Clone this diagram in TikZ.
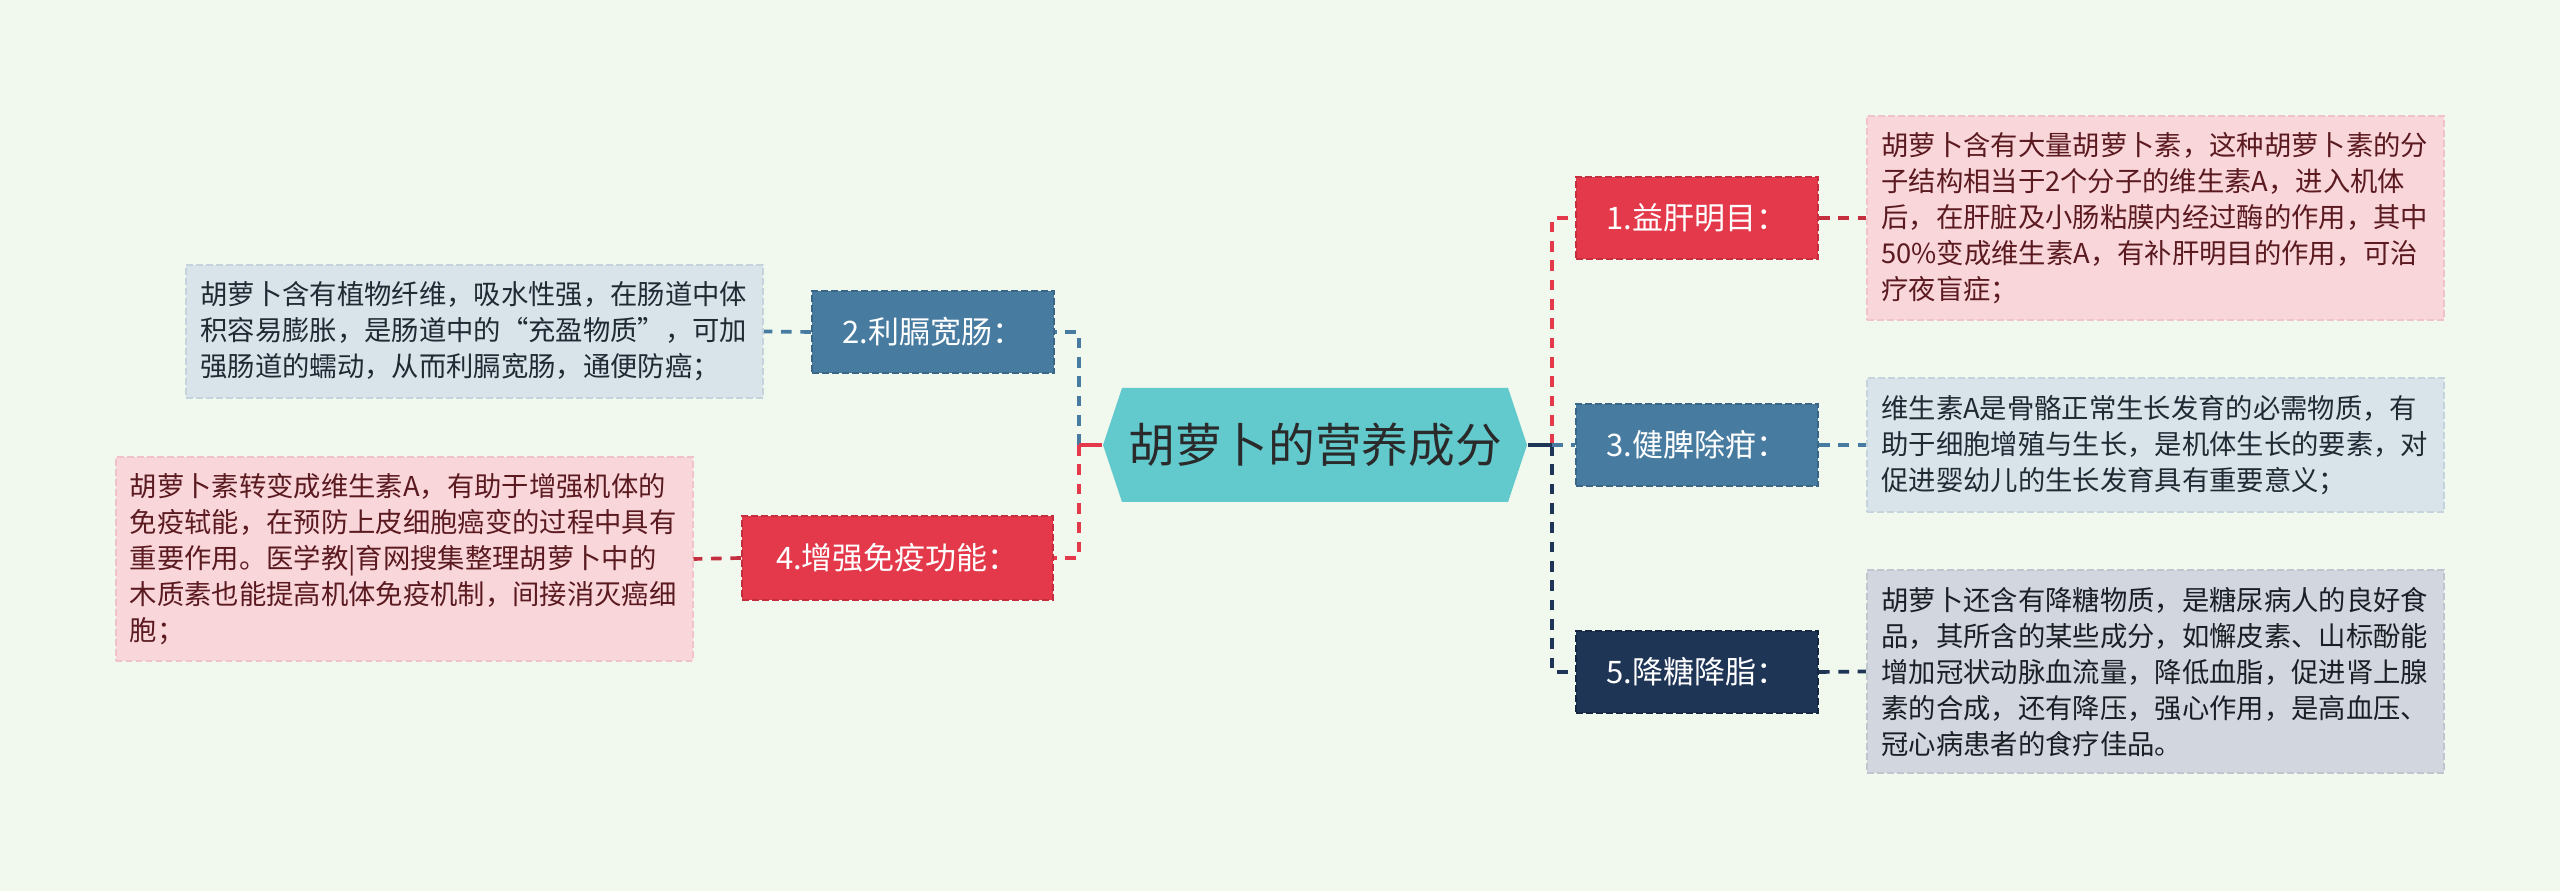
\documentclass[tikz,border=0pt]{standalone}
\usepackage{fontspec}
\setmainfont{Noto Sans CJK SC}
\usetikzlibrary{calc}
\definecolor{bg}{HTML}{F1F9EF}
\definecolor{hubfill}{HTML}{62C9CC}
\definecolor{hubtext}{HTML}{2A2A2A}
\definecolor{cred}{HTML}{E3394A}
\definecolor{credd}{HTML}{C42E3E}
\definecolor{cblue}{HTML}{477BA0}
\definecolor{cblued}{HTML}{3A6687}
\definecolor{cnavy}{HTML}{1E3556}
\definecolor{cnavyd}{HTML}{152741}
\definecolor{pinkfill}{HTML}{F9D6DA}
\definecolor{pinkline}{HTML}{EFC3C9}
\definecolor{pinktext}{HTML}{5A1A20}
\definecolor{bluefill}{HTML}{D8E3EA}
\definecolor{blueline}{HTML}{C5D3DD}
\definecolor{bluetext}{HTML}{1F2A33}
\definecolor{greyfill}{HTML}{D2D7DF}
\definecolor{greyline}{HTML}{C0C6D0}
\definecolor{greytext}{HTML}{1A1F26}
\begin{document}
\begin{tikzpicture}[x=0.3pt,y=-0.3pt,
  hub/.style={rectangle, minimum width=127.2pt, minimum height=34.2pt, inner sep=0pt,
    text=hubtext, font=\fontsize{14pt}{16pt}\selectfont},
  topic/.style={rectangle, minimum width=72.6pt, minimum height=24.6pt, inner sep=0pt,
    text=white, font=\fontsize{9.3pt}{11pt}\selectfont, draw, line width=0.6pt,
    dash pattern=on 2pt off 1pt},
  redtopic/.style={topic, fill=cred, draw=credd},
  bluetopic/.style={topic, fill=cblue, draw=cblued},
  navytopic/.style={topic, fill=cnavy, draw=cnavyd},
  desc/.style={rectangle, text width=164.5pt, align=left, inner xsep=4.3pt, inner ysep=0pt,
    font=\fontsize{8.2pt}{10.8pt}\selectfont, draw, line width=0.6pt,
    dash pattern=on 2pt off 1pt},
  pinkdesc/.style={desc, fill=pinkfill, draw=pinkline, text=pinktext},
  bluedesc/.style={desc, fill=bluefill, draw=blueline, text=bluetext},
  greydesc/.style={desc, fill=greyfill, draw=greyline, text=greytext},
  link/.style={line width=1.1pt, dash pattern=on 3.2pt off 2.6pt},
  stem/.style={line width=1.1pt}
]
\useasboundingbox[fill=bg] (0,0) rectangle (2560,891);

% central hexagon
\fill[hubfill] (1103,445) -- (1122,388) -- (1508,388) -- (1527,445) -- (1508,502) -- (1122,502) -- cycle;
\node[hub] (c) at (1315,445) {胡萝卜的营养成分};

% topics
\node[redtopic]  (n1) at (1697,218) {1.益肝明目：};
\node[bluetopic] (n3) at (1697,445) {3.健脾除疳：};
\node[navytopic] (n5) at (1697,672) {5.降糖降脂：};
\node[bluetopic] (n2) at (933,332) {2.利膈宽肠：};
\node[redtopic, minimum width=93.3pt, minimum height=25.2pt] (n4) at (897.5,558) {4.增强免疫功能：};

% descriptions
\node[pinkdesc, minimum height=61.2pt] (t1) at (2155.5,218) {胡萝卜含有大量胡萝卜素，这种胡萝卜素的分\\子结构相当于2个分子的维生素A，进入机体\\后，在肝脏及小肠粘膜内经过酶的作用，其中\\50\%变成维生素A，有补肝明目的作用，可治\\疗夜盲症；};
\node[bluedesc, minimum height=40.2pt] (t3) at (2155.5,445) {维生素A是骨骼正常生长发育的必需物质，有\\助于细胞增殖与生长，是机体生长的要素，对\\促进婴幼儿的生长发育具有重要意义；};
\node[greydesc, minimum height=60.9pt] (t5) at (2155.5,671.5) {胡萝卜还含有降糖物质，是糖尿病人的良好食\\品，其所含的某些成分，如懈皮素、山标酚能\\增加冠状动脉血流量，降低血脂，促进肾上腺\\素的合成，还有降压，强心作用，是高血压、\\冠心病患者的食疗佳品。};
\node[bluedesc, minimum height=39.9pt] (t2) at (474.5,331.5) {胡萝卜含有植物纤维，吸水性强，在肠道中体\\积容易膨胀，是肠道中的“充盈物质”，可加\\强肠道的蠕动，从而利膈宽肠，通便防癌；};
\node[pinkdesc, minimum height=61.2pt] (t4) at (404,559) {胡萝卜素转变成维生素A，有助于增强机体的\\免疫轼能，在预防上皮细胞癌变的过程中具有\\重要作用。医学教|育网搜集整理胡萝卜中的\\木质素也能提高机体免疫机制，间接消灭癌细\\胞；};

% junctions
\coordinate (jr) at (1552,445);
\coordinate (jl) at (1079,445);

% right side
\draw[link, cred] (jr) |- (n1.west);
\draw[link, cnavy] (jr) |- (n5.west);
\draw[link, cblue] (jr) -- (n3.west);
\draw[stem, cnavy] (c.east) -- (jr);

% left side
\draw[link, cblue] (jl) |- (n2.east);
\draw[link, cred] (jl) |- (n4.east);
\draw[stem, cred] (c.west) -- (jl);

% topic to description
\draw[link, credd] (n1.east) -- (t1.west);
\draw[link, cblue] (n3.east) -- (t3.west);
\draw[link, cnavy] (n5.east) -- (t5.west);
\draw[link, cblue] (n2.west) -- (t2.east);
\draw[link, credd] (n4.west) -- (t4.east);
\end{tikzpicture}
\end{document}
